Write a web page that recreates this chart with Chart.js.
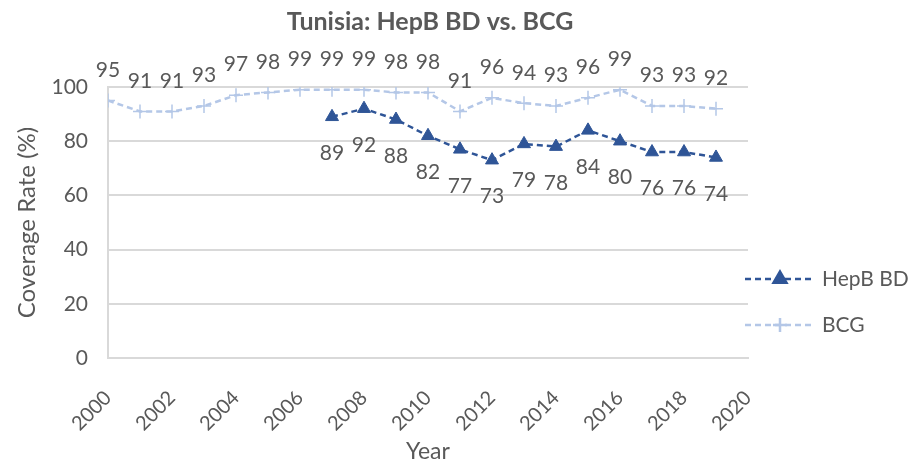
<!DOCTYPE html>
<html>
<head>
<meta charset="utf-8">
<script src="https://cdn.jsdelivr.net/npm/chart.js@4/dist/chart.umd.min.js"></script>
<style>
  html, body { margin: 0; padding: 0; background: #fff; }
  #wrap { width: 909px; height: 465px; }
</style>
</head>
<body>
<div id="wrap"><canvas id="c" width="909" height="465"></canvas></div>
<script>
// Tunisia coverage — HepB birth dose vs BCG
const bcgYears  = [2000, 2001, 2002, 2003, 2004, 2005, 2006, 2007, 2008, 2009,
                   2010, 2011, 2012, 2013, 2014, 2015, 2016, 2017, 2018, 2019];
const bcgValues = [95, 91, 91, 93, 97, 98, 99, 99, 99, 98,
                   98, 91, 96, 94, 93, 96, 99, 93, 93, 92];
const hepYears  = [2007, 2008, 2009, 2010, 2011, 2012, 2013, 2014, 2015, 2016, 2017, 2018, 2019];
const hepValues = [89, 92, 88, 82, 77, 73, 79, 78, 84, 80, 76, 76, 74];

const FONT  = 'Lato, "Open Sans", sans-serif';
const TEXT  = '#595959';
const GRID  = '#d9d9d9';
const DARK  = '#2F5597';
const LIGHT = '#B4C7E7';

const pts = (xs, ys) => xs.map((x, i) => ({ x, y: ys[i] }));

// value labels: BCG above its points, HepB below
const valueLabels = {
  id: 'valueLabels',
  afterDatasetsDraw(chart) {
    const ctx = chart.ctx;
    ctx.save();
    ctx.font = '21px ' + FONT;
    ctx.fillStyle = TEXT;
    ctx.textAlign = 'center';
    chart.data.datasets.forEach((ds, di) => {
      const above = ds.label === 'BCG';
      chart.getDatasetMeta(di).data.forEach((pt, i) => {
        ctx.textBaseline = above ? 'bottom' : 'top';
        ctx.fillText(String(ds.data[i].y), pt.x, above ? pt.y - 20 : pt.y + 26);
      });
    });
    ctx.restore();
  }
};

// title centred over the whole figure, legend on the right lower half
const frame = {
  id: 'frame',
  afterDraw(chart) {
    const ctx = chart.ctx;
    const area = chart.chartArea;
    ctx.save();
    ctx.font = 'bold 25px ' + FONT;
    ctx.fillStyle = TEXT;
    ctx.textAlign = 'center';
    ctx.textBaseline = 'middle';
    ctx.fillText('Tunisia: HepB BD vs. BCG', 430, 22);

    chart.data.datasets.forEach((ds, i) => {
      const y = 279 + i * 46;
      const x0 = area.right - 3, x1 = x0 + 70;
      ctx.strokeStyle = ds.borderColor;
      ctx.lineWidth = ds.borderWidth;
      ctx.setLineDash(ds.borderDash);
      ctx.beginPath();
      ctx.moveTo(x0, y);
      ctx.lineTo(x1, y);
      ctx.stroke();
      ctx.setLineDash([]);
      ctx.fillStyle = ds.pointBackgroundColor;
      ctx.strokeStyle = ds.pointBorderColor;
      Chart.helpers.drawPoint(ctx, {
        pointStyle: ds.pointStyle, radius: ds.pointRadius,
        rotation: 0, borderWidth: ds.pointBorderWidth
      }, (x0 + x1) / 2, y);
      ctx.font = '21px ' + FONT;
      ctx.fillStyle = TEXT;
      ctx.textAlign = 'left';
      ctx.textBaseline = 'middle';
      ctx.fillText(ds.label, x1 + 7, y);
    });
    ctx.restore();
  }
};

new Chart(document.getElementById('c'), {
  type: 'line',
  data: {
    datasets: [
      {
        label: 'HepB BD',
        data: pts(hepYears, hepValues),
        borderColor: DARK,
        borderWidth: 2.5,
        borderDash: [6, 4],
        pointStyle: 'triangle',
        pointRadius: 7.5,
        pointBackgroundColor: DARK,
        pointBorderColor: DARK,
        pointBorderWidth: 1,
        tension: 0
      },
      {
        label: 'BCG',
        data: pts(bcgYears, bcgValues),
        borderColor: LIGHT,
        borderWidth: 2.5,
        borderDash: [6, 4],
        pointStyle: 'cross',
        pointRadius: 7,
        pointBackgroundColor: LIGHT,
        pointBorderColor: LIGHT,
        pointBorderWidth: 1.5,
        tension: 0
      }
    ]
  },
  options: {
    responsive: false,
    animation: false,
    layout: { padding: { left: 10, right: 161, top: 87, bottom: 0 } },
    plugins: {
      legend: { display: false },
      tooltip: { enabled: false },
      title: { display: false }
    },
    scales: {
      x: {
        type: 'linear',
        min: 2000, max: 2020,
        afterFit: s => { s.height = 107; },
        ticks: {
          stepSize: 2, color: TEXT, minRotation: 45, maxRotation: 45, padding: 20,
          font: { family: FONT, size: 20 },
          callback: v => String(v)
        },
        grid: { display: false },
        border: { color: GRID, width: 2 },
        title: {
          display: true, text: 'Year', color: TEXT,
          font: { family: FONT, size: 23 }, padding: { top: 0, bottom: 0 }
        }
      },
      y: {
        min: 0, max: 100,
        afterFit: s => { s.width = 98; },
        ticks: {
          stepSize: 20, color: TEXT, padding: 20,
          font: { family: FONT, size: 21 }
        },
        grid: { color: GRID, lineWidth: 2, drawTicks: false },
        border: { color: GRID, width: 2 },
        title: {
          display: true, text: 'Coverage Rate (%)', color: TEXT,
          font: { family: FONT, size: 24 }, padding: { top: 3, bottom: 4 }
        }
      }
    }
  },
  plugins: [valueLabels, frame]
});
</script>
</body>
</html>
